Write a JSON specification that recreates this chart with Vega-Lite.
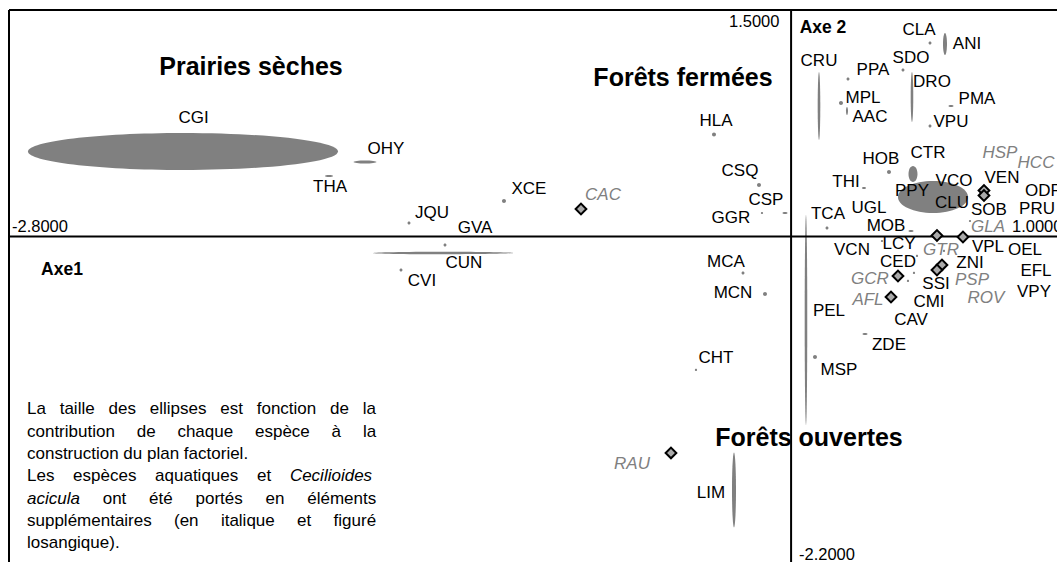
{
  "$schema": "https://vega.github.io/schema/vega-lite/v6.json",
  "width": 1048,
  "height": 552,
  "autosize": {"type": "none"},
  "padding": {"left": 9, "top": 10, "right": 0, "bottom": 0},
  "background": "#ffffff",
  "config": {"view": {"stroke": null}, "text": {"font": "Liberation Sans"}},
  "datasets": {
    "frame": [
      {"x": -2.8, "x2": 0.952, "y": 1.5, "y2": 1.5},
      {"x": -2.8, "x2": -2.8, "y": -2.156, "y2": 1.5},
      {"x": -2.8, "x2": 0.952, "y": 0, "y2": 0},
      {"x": 0, "x2": 0, "y": -2.156, "y2": 1.5}
    ],
    "markers": [
      {"code": "CGI", "x": -2.1771, "y": 0.5629},
      {"code": "OHY", "x": -1.5255, "y": 0.4934},
      {"code": "CUN", "x": -1.2462, "y": -0.1093},
      {"code": "THA", "x": -1.6544, "y": 0.4007},
      {"code": "CRU", "x": 0.0999, "y": 0.8642},
      {"code": "DRO", "x": 0.4328, "y": 0.9238},
      {"code": "ANI", "x": 0.5510, "y": 1.2748},
      {"code": "AAC", "x": 0.2001, "y": 0.8311},
      {"code": "CTR", "x": 0.4364, "y": 0.4139},
      {"code": "PPY", "x": 0.5080, "y": 0.2616},
      {"code": "PEL", "x": 0.0533, "y": -0.5530},
      {"code": "LIM", "x": -0.2044, "y": -1.6788},
      {"code": "PMA", "x": 0.5725, "y": 0.8642},
      {"code": "THI", "x": 0.2610, "y": 0.3212},
      {"code": "MOB", "x": 0.4293, "y": 0.0364},
      {"code": "CSP", "x": -0.0218, "y": 0.1556},
      {"code": "ZDE", "x": 0.2646, "y": -0.6457},
      {"code": "XCE", "x": -1.0279, "y": 0.2351},
      {"code": "JQU", "x": -1.3680, "y": 0.0894},
      {"code": "GVA", "x": -1.2391, "y": -0.0563},
      {"code": "CVI", "x": -1.3966, "y": -0.2219},
      {"code": "HLA", "x": -0.2760, "y": 0.6755},
      {"code": "CSQ", "x": -0.1149, "y": 0.3411},
      {"code": "GGR", "x": -0.1042, "y": 0.1556},
      {"code": "MCA", "x": -0.1722, "y": -0.2417},
      {"code": "MCN", "x": -0.0934, "y": -0.3808},
      {"code": "CHT", "x": -0.3405, "y": -0.8841},
      {"code": "CLA", "x": 0.4973, "y": 1.2815},
      {"code": "PPA", "x": 0.2037, "y": 1.0430},
      {"code": "SDO", "x": 0.4006, "y": 1.1026},
      {"code": "MPL", "x": 0.1786, "y": 0.8841},
      {"code": "VPU", "x": 0.4973, "y": 0.7318},
      {"code": "HOB", "x": 0.3505, "y": 0.4272},
      {"code": "TCA", "x": 0.1285, "y": 0.0563},
      {"code": "LCY", "x": 0.3254, "y": -0.0298},
      {"code": "CED", "x": 0.4507, "y": -0.1291},
      {"code": "MSP", "x": 0.0856, "y": -0.7980},
      {"code": "VCN", "x": 0.5474, "y": -0.0960},
      {"code": "CMI", "x": 0.4185, "y": -0.2947},
      {"code": "SSI", "x": 0.4400, "y": -0.2417},
      {"code": "SOB", "x": 0.6405, "y": 0.1026}
    ],
    "supp": [
      {"code": "CAC", "x": -0.7522, "y": 0.1821},
      {"code": "RAU", "x": -0.4300, "y": -1.4338},
      {"code": "HSP", "x": 0.6906, "y": 0.3046},
      {"code": "HCC", "x": 0.6906, "y": 0.2715},
      {"code": "GTR", "x": 0.5223, "y": 0.0066},
      {"code": "GLA", "x": 0.6154, "y": -0.0033},
      {"code": "PSP", "x": 0.5402, "y": -0.1887},
      {"code": "ROV", "x": 0.5223, "y": -0.2219},
      {"code": "GCR", "x": 0.3827, "y": -0.2616},
      {"code": "AFL", "x": 0.3577, "y": -0.4007}
    ],
    "labels": [
      {"code": "CGI", "x": -2.1395, "y": 0.7848},
      {"code": "OHY", "x": -1.4503, "y": 0.5795},
      {"code": "THA", "x": -1.6508, "y": 0.3278},
      {"code": "XCE", "x": -0.9384, "y": 0.3146},
      {"code": "JQU", "x": -1.2856, "y": 0.1556},
      {"code": "GVA", "x": -1.1317, "y": 0.0563},
      {"code": "CUN", "x": -1.1711, "y": -0.1755},
      {"code": "CVI", "x": -1.3214, "y": -0.2947},
      {"code": "HLA", "x": -0.2689, "y": 0.7649},
      {"code": "CSQ", "x": -0.1829, "y": 0.4338},
      {"code": "CSP", "x": -0.0899, "y": 0.2417},
      {"code": "GGR", "x": -0.2152, "y": 0.1225},
      {"code": "MCA", "x": -0.2331, "y": -0.1689},
      {"code": "MCN", "x": -0.2080, "y": -0.3742},
      {"code": "CHT", "x": -0.2689, "y": -0.8046},
      {"code": "LIM", "x": -0.2868, "y": -1.6987},
      {"code": "CLA", "x": 0.4579, "y": 1.3675},
      {"code": "ANI", "x": 0.6297, "y": 1.2748},
      {"code": "CRU", "x": 0.0999, "y": 1.1623},
      {"code": "SDO", "x": 0.4293, "y": 1.1821},
      {"code": "PPA", "x": 0.2932, "y": 1.1026},
      {"code": "DRO", "x": 0.5044, "y": 1.0232},
      {"code": "MPL", "x": 0.2574, "y": 0.9172},
      {"code": "PMA", "x": 0.6655, "y": 0.9106},
      {"code": "AAC", "x": 0.2825, "y": 0.7914},
      {"code": "VPU", "x": 0.5725, "y": 0.7583},
      {"code": "HOB", "x": 0.3219, "y": 0.5132},
      {"code": "CTR", "x": 0.4901, "y": 0.5530},
      {"code": "THI", "x": 0.1966, "y": 0.3609},
      {"code": "VCO", "x": 0.5832, "y": 0.3675},
      {"code": "VEN", "x": 0.7550, "y": 0.3874},
      {"code": "PPY", "x": 0.4328, "y": 0.3013},
      {"code": "ODF", "x": 0.9018, "y": 0.3013},
      {"code": "CLU", "x": 0.5760, "y": 0.2219},
      {"code": "SOB", "x": 0.7085, "y": 0.1755},
      {"code": "PRU", "x": 0.8804, "y": 0.1821},
      {"code": "UGL", "x": 0.2789, "y": 0.1887},
      {"code": "TCA", "x": 0.1321, "y": 0.1490},
      {"code": "MOB", "x": 0.3398, "y": 0.0695},
      {"code": "VCN", "x": 0.2180, "y": -0.0894},
      {"code": "LCY", "x": 0.3863, "y": -0.0497},
      {"code": "VPL", "x": 0.7049, "y": -0.0695},
      {"code": "OEL", "x": 0.8374, "y": -0.0894},
      {"code": "CED", "x": 0.3827, "y": -0.1689},
      {"code": "ZNI", "x": 0.6405, "y": -0.1755},
      {"code": "EFL", "x": 0.8768, "y": -0.2285},
      {"code": "SSI", "x": 0.5188, "y": -0.3146},
      {"code": "VPY", "x": 0.8696, "y": -0.3675},
      {"code": "CMI", "x": 0.4937, "y": -0.4338},
      {"code": "PEL", "x": 0.1357, "y": -0.4934},
      {"code": "CAV", "x": 0.4293, "y": -0.5530},
      {"code": "ZDE", "x": 0.3505, "y": -0.7185},
      {"code": "MSP", "x": 0.1715, "y": -0.8841}
    ],
    "suppLabels": [
      {"code": "CAC", "x": -0.6734, "y": 0.2748},
      {"code": "RAU", "x": -0.5696, "y": -1.5066},
      {"code": "HSP", "x": 0.7479, "y": 0.5530},
      {"code": "HCC", "x": 0.8768, "y": 0.4868},
      {"code": "GLA", "x": 0.7049, "y": 0.0629},
      {"code": "GTR", "x": 0.5367, "y": -0.0894},
      {"code": "GCR", "x": 0.2825, "y": -0.2815},
      {"code": "PSP", "x": 0.6476, "y": -0.2881},
      {"code": "ROV", "x": 0.6978, "y": -0.4073},
      {"code": "AFL", "x": 0.2753, "y": -0.4205}
    ],
    "headers": [
      {"t": "Prairies sèches", "x": -1.9336, "y": 1.1225},
      {"t": "Forêts fermées", "x": -0.3870, "y": 1.0497},
      {"t": "Forêts ouvertes", "x": 0.0641, "y": -1.3344}
    ],
    "axisNames": [
      {"t": "Axe1", "x": -2.6103, "y": -0.2219},
      {"t": "Axe 2", "x": 0.1142, "y": 1.3808}
    ],
    "ends": [
      {"t": "-2.8000", "x": -2.7893, "y": 0.0629},
      {"t": "1.0000", "x": 0.7909, "y": 0.0629},
      {"t": "1.5000", "x": -0.2223, "y": 1.4205},
      {"t": "-2.2000", "x": 0.0283, "y": -2.1093}
    ],
    "note": [
      {"t": "La", "x": -2.7356, "y": -1.1457},
      {"t": "taille", "x": -2.6185, "y": -1.1457},
      {"t": "des", "x": -2.4438, "y": -1.1457},
      {"t": "ellipses", "x": -2.2963, "y": -1.1457},
      {"t": "est", "x": -2.0439, "y": -1.1457},
      {"t": "fonction", "x": -1.9132, "y": -1.1457},
      {"t": "de", "x": -1.6508, "y": -1.1457},
      {"t": "la", "x": -1.5337, "y": -1.1457},
      {"t": "contribution", "x": -2.7356, "y": -1.2934},
      {"t": "de", "x": -2.3428, "y": -1.2934},
      {"t": "chaque", "x": -2.1971, "y": -1.2934},
      {"t": "espèce", "x": -1.9193, "y": -1.2934},
      {"t": "à", "x": -1.6451, "y": -1.2934},
      {"t": "la", "x": -1.5330, "y": -1.2934},
      {"t": "construction du plan factoriel.", "x": -2.7356, "y": -1.4411},
      {"t": "Les", "x": -2.7356, "y": -1.5887},
      {"t": "espèces", "x": -2.5705, "y": -1.5887},
      {"t": "aquatiques", "x": -2.2770, "y": -1.5887},
      {"t": "et", "x": -1.9121, "y": -1.5887},
      {"t": "ont", "x": -2.4646, "y": -1.7364},
      {"t": "été", "x": -2.2984, "y": -1.7364},
      {"t": "portés", "x": -2.1323, "y": -1.7364},
      {"t": "en", "x": -1.8817, "y": -1.7364},
      {"t": "éléments", "x": -1.7324, "y": -1.7364},
      {"t": "supplémentaires", "x": -2.7356, "y": -1.8841},
      {"t": "(en", "x": -2.2093, "y": -1.8841},
      {"t": "italique", "x": -2.0414, "y": -1.8841},
      {"t": "et", "x": -1.7686, "y": -1.8841},
      {"t": "figuré", "x": -1.6379, "y": -1.8841},
      {"t": "losangique).", "x": -2.7356, "y": -2.0318}
    ],
    "noteItalic": [
      {"t": "Cecilioides", "x": -1.7944, "y": -1.5887},
      {"t": "acicula", "x": -2.7356, "y": -1.7364}
    ]
  },
  "encoding": {
    "x": {"field": "x", "type": "quantitative", "scale": {"domain": [-2.8, 0.952], "nice": false, "zero": false}, "axis": null},
    "y": {"field": "y", "type": "quantitative", "scale": {"domain": [-2.156, 1.5], "nice": false, "zero": false}, "axis": null}
  },
  "layer": [
    {
      "data": {"name": "markers"},
      "mark": {"type": "point", "filled": true, "size": 4, "color": "#808080", "opacity": 1},
      "encoding": {
        "shape": {
          "field": "code",
          "type": "nominal",
          "legend": null,
          "scale": {
            "domain": ["CGI","OHY","CUN","THA","CRU","DRO","ANI","AAC","CTR","PPY","PEL","LIM","PMA","THI","MOB","CSP","ZDE","XCE","JQU","GVA","CVI","HLA","CSQ","GGR","MCA","MCN","CHT","CLA","PPA","SDO","MPL","VPU","HOB","TCA","LCY","CED","MSP","VCN","CMI","SSI","SOB"],
            "range": [
              "M-155,0A155,18.5 0 1,0 155,0A155,18.5 0 1,0 -155,0Z",
              "M-11.5,0A11.5,1.5 0 1,0 11.5,0A11.5,1.5 0 1,0 -11.5,0Z",
              "M-70,0A70,1.3 0 1,0 70,0A70,1.3 0 1,0 -70,0Z",
              "M-4,0A4,1 0 1,0 4,0A4,1 0 1,0 -4,0Z",
              "M-1.3,0A1.3,34 0 1,0 1.3,0A1.3,34 0 1,0 -1.3,0Z",
              "M-1.3,0A1.3,25 0 1,0 1.3,0A1.3,25 0 1,0 -1.3,0Z",
              "M-2,0A2,11 0 1,0 2,0A2,11 0 1,0 -2,0Z",
              "M-1,0A1,4 0 1,0 1,0A1,4 0 1,0 -1,0Z",
              "M-4.5,0A4.5,8 0 1,0 4.5,0A4.5,8 0 1,0 -4.5,0Z",
              "M-35,0A35,16 0 1,0 35,0A35,16 0 1,0 -35,0Z",
              "M-1.3,0A1.3,105 0 1,0 1.3,0A1.3,105 0 1,0 -1.3,0Z",
              "M-2,0A2,37.5 0 1,0 2,0A2,37.5 0 1,0 -2,0Z",
              "M-2.5,0A2.5,1 0 1,0 2.5,0A2.5,1 0 1,0 -2.5,0Z",
              "M-2,0A2,1 0 1,0 2,0A2,1 0 1,0 -2,0Z",
              "M-2.5,0A2.5,1 0 1,0 2.5,0A2.5,1 0 1,0 -2.5,0Z",
              "M-2.5,0A2.5,1 0 1,0 2.5,0A2.5,1 0 1,0 -2.5,0Z",
              "M-2.5,0A2.5,1 0 1,0 2.5,0A2.5,1 0 1,0 -2.5,0Z",
              "M-2,0A2,2 0 1,0 2,0A2,2 0 1,0 -2,0Z",
              "M-1.5,0A1.5,1.5 0 1,0 1.5,0A1.5,1.5 0 1,0 -1.5,0Z",
              "M-1.5,0A1.5,1.5 0 1,0 1.5,0A1.5,1.5 0 1,0 -1.5,0Z",
              "M-1.5,0A1.5,1.5 0 1,0 1.5,0A1.5,1.5 0 1,0 -1.5,0Z",
              "M-2,0A2,2 0 1,0 2,0A2,2 0 1,0 -2,0Z",
              "M-2,0A2,2 0 1,0 2,0A2,2 0 1,0 -2,0Z",
              "M-1.1,0A1.1,1.1 0 1,0 1.1,0A1.1,1.1 0 1,0 -1.1,0Z",
              "M-1.5,0A1.5,1.5 0 1,0 1.5,0A1.5,1.5 0 1,0 -1.5,0Z",
              "M-2,0A2,2 0 1,0 2,0A2,2 0 1,0 -2,0Z",
              "M-1.1,0A1.1,1.1 0 1,0 1.1,0A1.1,1.1 0 1,0 -1.1,0Z",
              "M-1.5,0A1.5,1.5 0 1,0 1.5,0A1.5,1.5 0 1,0 -1.5,0Z",
              "M-1.5,0A1.5,1.5 0 1,0 1.5,0A1.5,1.5 0 1,0 -1.5,0Z",
              "M-1.5,0A1.5,1.5 0 1,0 1.5,0A1.5,1.5 0 1,0 -1.5,0Z",
              "M-2,0A2,2 0 1,0 2,0A2,2 0 1,0 -2,0Z",
              "M-1.5,0A1.5,1.5 0 1,0 1.5,0A1.5,1.5 0 1,0 -1.5,0Z",
              "M-2,0A2,2 0 1,0 2,0A2,2 0 1,0 -2,0Z",
              "M-1.5,0A1.5,1.5 0 1,0 1.5,0A1.5,1.5 0 1,0 -1.5,0Z",
              "M-1.1,0A1.1,1.1 0 1,0 1.1,0A1.1,1.1 0 1,0 -1.1,0Z",
              "M-1.1,0A1.1,1.1 0 1,0 1.1,0A1.1,1.1 0 1,0 -1.1,0Z",
              "M-2,0A2,2 0 1,0 2,0A2,2 0 1,0 -2,0Z",
              "M-1.1,0A1.1,1.1 0 1,0 1.1,0A1.1,1.1 0 1,0 -1.1,0Z",
              "M-1.1,0A1.1,1.1 0 1,0 1.1,0A1.1,1.1 0 1,0 -1.1,0Z",
              "M-1.1,0A1.1,1.1 0 1,0 1.1,0A1.1,1.1 0 1,0 -1.1,0Z",
              "M-1.1,0A1.1,1.1 0 1,0 1.1,0A1.1,1.1 0 1,0 -1.1,0Z"
            ]
          }
        }
      }
    },
    {
      "data": {"name": "frame"},
      "mark": {"type": "rule", "color": "#000000", "strokeWidth": 2},
      "encoding": {"x2": {"field": "x2"}, "y2": {"field": "y2"}}
    },
    {
      "data": {"name": "labels"},
      "mark": {"type": "text", "fontSize": 17, "color": "#000000", "align": "center", "baseline": "middle"},
      "encoding": {"text": {"field": "code"}}
    },
    {
      "data": {"name": "suppLabels"},
      "mark": {"type": "text", "fontSize": 17, "fontStyle": "italic", "color": "#808080", "align": "center", "baseline": "middle"},
      "encoding": {"text": {"field": "code"}}
    },
    {
      "data": {"name": "headers"},
      "mark": {"type": "text", "fontSize": 25, "fontWeight": "bold", "color": "#000000", "align": "center", "baseline": "middle"},
      "encoding": {"text": {"field": "t"}}
    },
    {
      "data": {"name": "axisNames"},
      "mark": {"type": "text", "fontSize": 17.5, "fontWeight": "bold", "color": "#000000", "align": "center", "baseline": "middle"},
      "encoding": {"text": {"field": "t"}}
    },
    {
      "data": {"name": "ends"},
      "mark": {"type": "text", "fontSize": 16.5, "color": "#000000", "align": "left", "baseline": "middle"},
      "encoding": {"text": {"field": "t"}}
    },
    {
      "data": {"name": "note"},
      "mark": {"type": "text", "fontSize": 17, "color": "#000000", "align": "left", "baseline": "middle"},
      "encoding": {"text": {"field": "t"}}
    },
    {
      "data": {"name": "noteItalic"},
      "mark": {"type": "text", "fontSize": 17, "fontStyle": "italic", "color": "#000000", "align": "left", "baseline": "middle"},
      "encoding": {"text": {"field": "t"}}
    },
    {
      "data": {"name": "supp"},
      "mark": {"type": "point", "shape": "diamond", "filled": true, "size": 115, "fill": "#aaaaaa", "stroke": "#000000", "strokeWidth": 2, "opacity": 1}
    }
  ]
}
